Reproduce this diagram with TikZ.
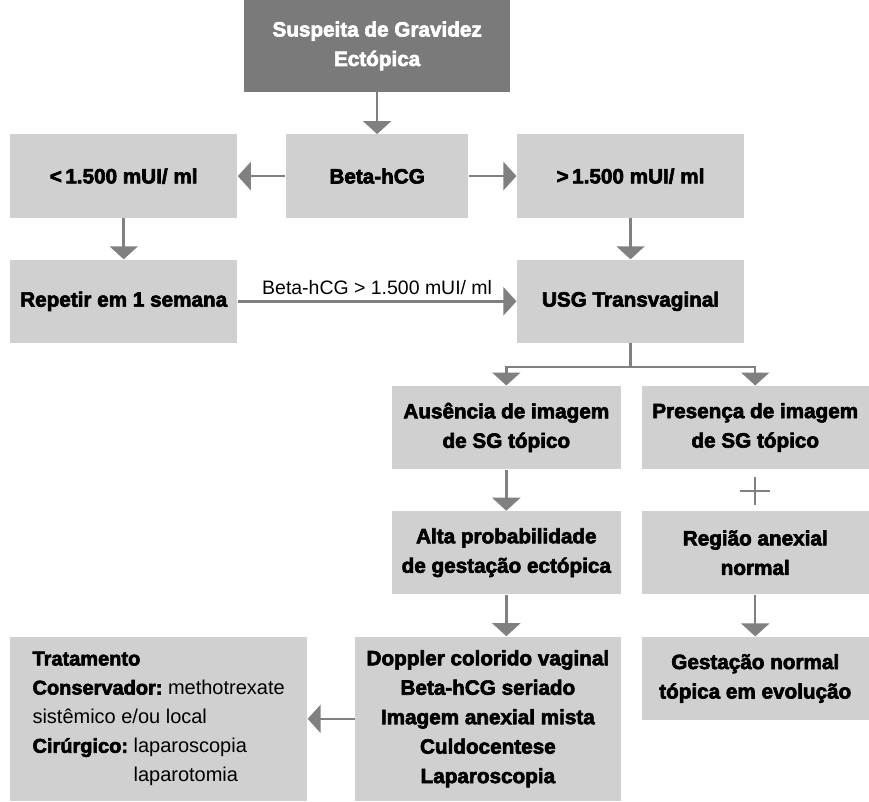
\documentclass[tikz,border=0pt]{standalone}
\usepackage{fontspec}
\setmainfont{Liberation Sans}[BoldFeatures={FakeBold=3}]
\usetikzlibrary{arrows.meta}
\definecolor{boxgray}{RGB}{208,208,208}
\definecolor{topgray}{RGB}{122,122,122}
\definecolor{linegray}{RGB}{128,128,128}
\begin{document}
\begin{tikzpicture}[flow node/.style={fill=boxgray, font=\fontsize{11.8}{16.8}\selectfont\bfseries, align=center, inner sep=2pt, minimum width=4.56cm, minimum height=1.67cm},start node/.style={flow node, fill=topgray, text=white, minimum width=5.32cm, minimum height=1.84cm},list node/.style={flow node, minimum width=5.32cm, minimum height=3.30cm},therapy node/.style={flow node, font=\fontsize{11.4}{16.6}\selectfont, align=left, minimum width=5.96cm, minimum height=3.30cm},flow line/.style={draw=linegray, line width=1.4pt},flow arrow/.style={flow line, -{Triangle[width=0.56cm,length=0.26cm]}}]%
  % Top%
\node[start node] (start) at (7.56,-0.92) {Suspeita de Gravidez\\ Ectópica};%
  % Beta-hCG row%
\node[flow node, minimum width=3.66cm] (beta) at (7.56,-3.53) {Beta-hCG};%
\node[flow node] (low) at (2.48,-3.53) {<\,1.500 mUI/ ml};%
\node[flow node] (high) at (12.64,-3.53) {>\,1.500 mUI/ ml};%
  % Second row%
\node[flow node] (repeat) at (2.48,-6.04) {Repetir em 1 semana};%
\node[flow node] (usg) at (12.64,-6.04) {USG Transvaginal};%
  % Findings%
\node[flow node, minimum width=4.58cm] (absent) at (10.15,-8.57) {Ausência de imagem\\ de SG tópico};%
\node[flow node] (present) at (15.14,-8.57) {Presença de imagem\\ de SG tópico};%
\node[flow node, minimum width=4.58cm] (likely) at (10.15,-11.08) {Alta probabilidade\\ de gestação ectópica};%
\node[flow node] (adnexa) at (15.14,-11.08) {Região anexial\\ normal};%
  % Bottom row%
\node[list node] (exams) at (9.78,-14.41) {Doppler colorido vaginal\\ Beta-hCG seriado\\ Imagem anexial mista\\ Culdocentese\\ Laparoscopia};%
\node[flow node] (normal) at (15.14,-13.60) {Gestação normal\\ tópica em evolução};%
\node[therapy node] (therapy) at (3.18,-14.41) {\textbf{Tratamento}\\ \textbf{Conservador:}~methotrexate\\ sistêmico e/ou local\\ \textbf{Cirúrgico:}~laparoscopia\\ \hphantom{\textbf{Cirúrgico:}~}laparotomia};%
  % Connectors%
\path[flow arrow] (start) -- (beta);%
\path[flow arrow] (beta) -- (low);%
\path[flow arrow] (beta) -- (high);%
\path[flow arrow] (low) -- (repeat);%
\path[flow arrow] (high) -- (usg);%
\path[flow arrow] (repeat) -- node[above, font=\fontsize{11.1}{13}\selectfont, inner sep=3pt] (retest) {Beta-hCG > 1.500 mUI/ ml} (usg);%
\path[flow line] (usg.south) -- ++(0,-0.48) coordinate (fork);%
\path[flow arrow] (fork) -| (absent.north);%
\path[flow arrow] (fork) -| (present.north);%
\path[flow arrow] (absent) -- (likely);%
\path[flow arrow] (adnexa) -- (normal);%
\path[flow arrow] (likely.south) -- (likely.south |- exams.north);%
\path[flow arrow] (exams) -- (therapy);%
  % Plus sign%
\coordinate (plus) at (15.14,-9.84);%
\path[flow line] ([xshift=-0.30cm]plus) -- ([xshift=0.30cm]plus);%
\path[flow line] ([yshift=0.28cm]plus) -- ([yshift=-0.28cm]plus);%
\path[use as bounding box] (0,0) rectangle (17.38,-16.06);%
\end{tikzpicture}
\end{document}
